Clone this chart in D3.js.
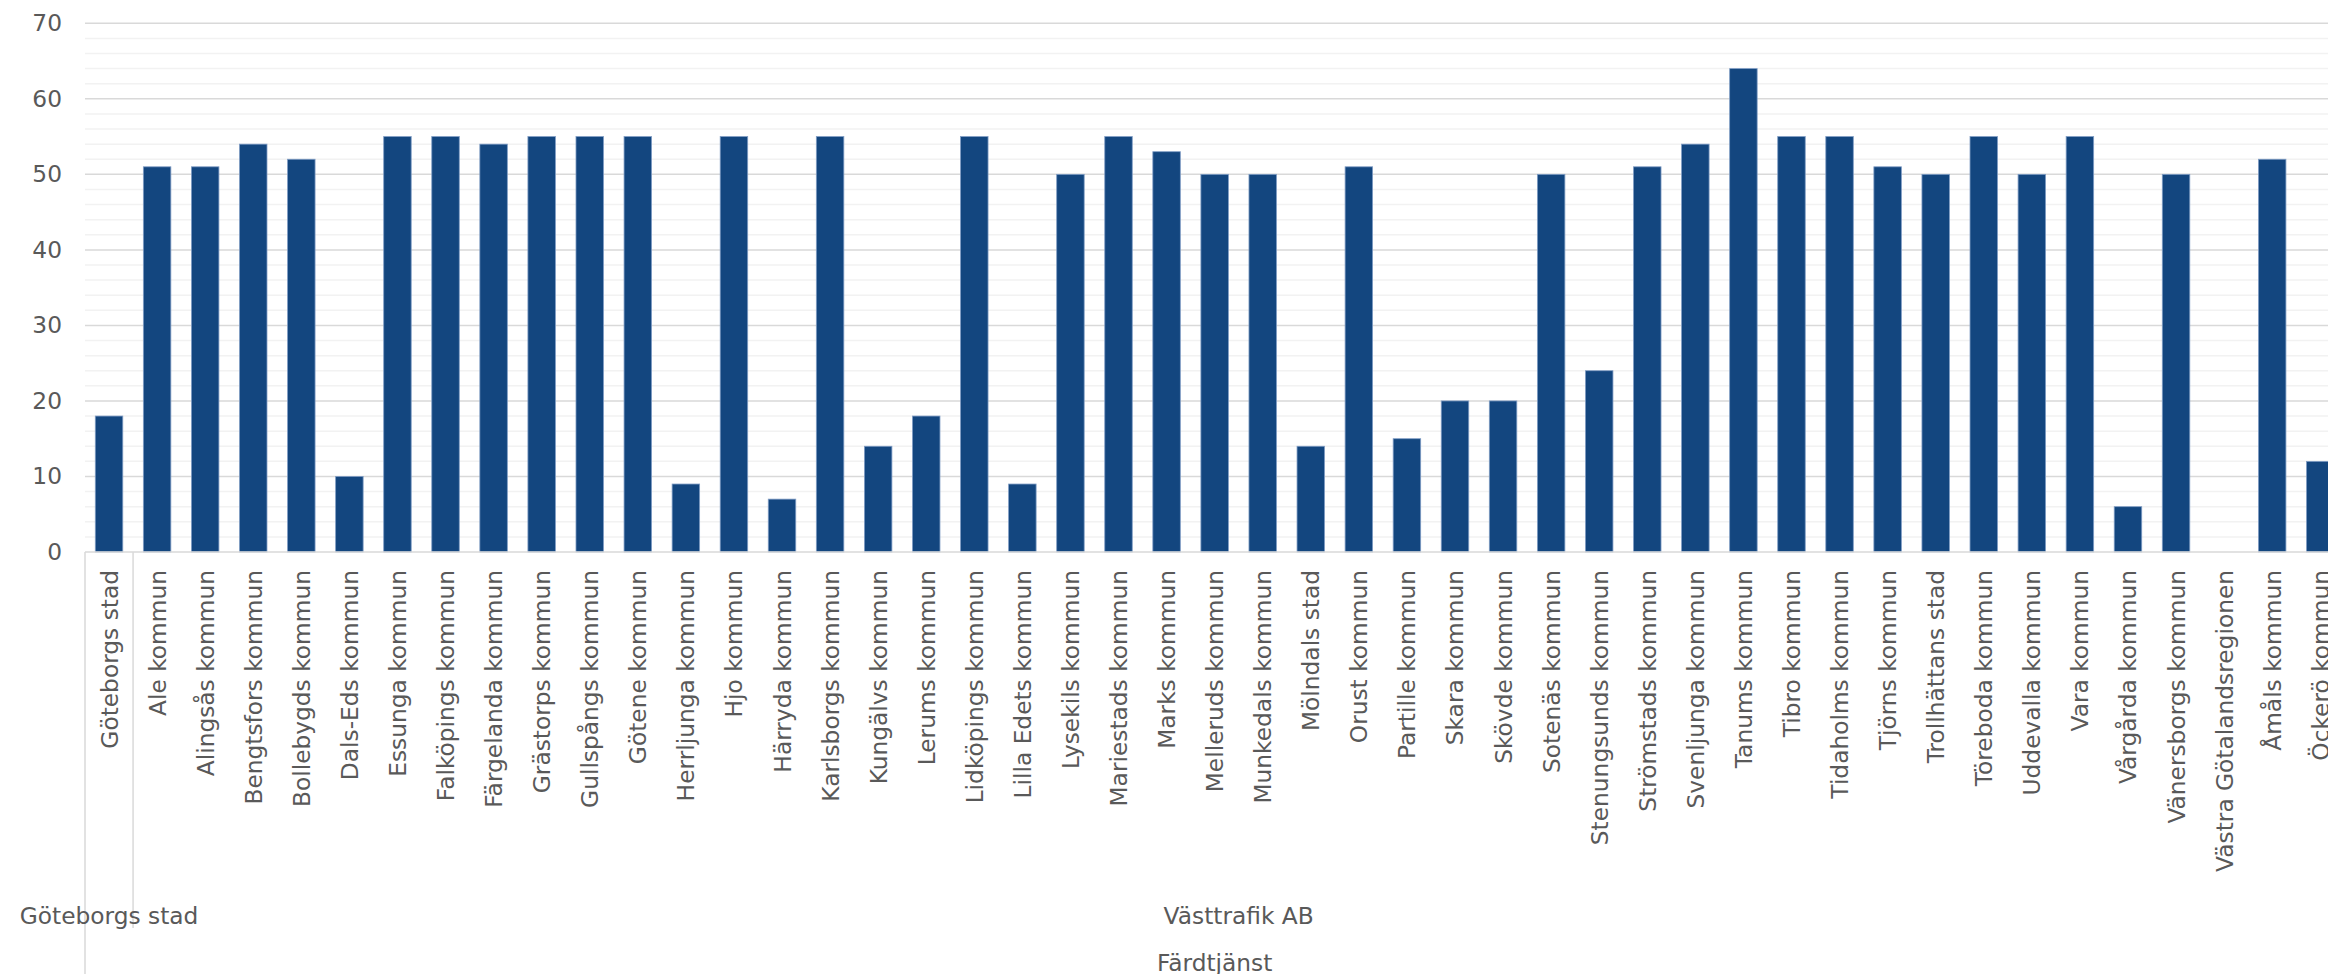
<!DOCTYPE html>
<html>
<head>
<meta charset="utf-8">
<script src="https://cdn.jsdelivr.net/npm/d3@7"></script>
<style>
  html, body { margin: 0; padding: 0; background: #fff; overflow: hidden; }
  svg { display: block; }
  text { font-family: "DejaVu Sans", Verdana, sans-serif; fill: #595959; }
</style>
</head>
<body>
<script>
const categories = [
  "Göteborgs stad", "Ale kommun", "Alingsås kommun", "Bengtsfors kommun", "Bollebygds kommun",
  "Dals-Eds kommun", "Essunga kommun", "Falköpings kommun", "Färgelanda kommun", "Grästorps kommun",
  "Gullspångs kommun", "Götene kommun", "Herrljunga kommun", "Hjo kommun", "Härryda kommun",
  "Karlsborgs kommun", "Kungälvs kommun", "Lerums kommun", "Lidköpings kommun", "Lilla Edets kommun",
  "Lysekils kommun", "Mariestads kommun", "Marks kommun", "Melleruds kommun", "Munkedals kommun",
  "Mölndals stad", "Orust kommun", "Partille kommun", "Skara kommun", "Skövde kommun",
  "Sotenäs kommun", "Stenungsunds kommun", "Strömstads kommun", "Svenljunga kommun", "Tanums kommun",
  "Tibro kommun", "Tidaholms kommun", "Tjörns kommun", "Trollhättans stad", "Töreboda kommun",
  "Uddevalla kommun", "Vara kommun", "Vårgårda kommun", "Vänersborgs kommun", "Västra Götalandsregionen",
  "Åmåls kommun", "Öckerö kommun"
];
const values = [
  18, 51, 51, 54, 52,
  10, 55, 55, 54, 55,
  55, 55, 9, 55, 7,
  55, 14, 18, 55, 9,
  50, 55, 53, 50, 50,
  14, 51, 15, 20, 20,
  50, 24, 51, 54, 64,
  55, 55, 51, 50, 55,
  50, 55, 6, 50, null,
  52, 12
];
// Group levels: [label, first index, last index]
const groupLevel2 = [["Göteborgs stad", 0, 0], ["Västtrafik AB", 1, 46]];
const groupLevel3 = [["Färdtjänst", 0, 46]];
const yTicks = [0, 10, 20, 30, 40, 50, 60, 70];
const yMinorTicks = d3.range(0, 71, 2);

const W = 2328, H = 974;
const plotLeft = 85, plotTop = 23.3, plotBottom = 552;
const stepW = 48.07;

const svg = d3.select("body").append("svg").attr("width", W).attr("height", H);

const x = d3.scaleBand().domain(categories).range([plotLeft, plotLeft + stepW * categories.length]).padding(0);
const y = d3.scaleLinear().domain([0, 70]).range([plotBottom, plotTop]);

// minor gridlines
svg.append("g").selectAll("line").data(yMinorTicks.filter(v => v % 10 !== 0)).join("line")
  .attr("x1", plotLeft).attr("x2", W).attr("y1", d => y(d)).attr("y2", d => y(d))
  .attr("stroke", "#f2f2f2").attr("stroke-width", 1.5);
// major gridlines
svg.append("g").selectAll("line").data(yTicks.filter(v => v !== 0)).join("line")
  .attr("x1", plotLeft).attr("x2", W).attr("y1", d => y(d)).attr("y2", d => y(d))
  .attr("stroke", "#d9d9d9").attr("stroke-width", 1.5);

// y axis labels
const yAxis = d3.axisLeft(y).tickValues(yTicks).tickSize(0).tickPadding(23);
const gy = svg.append("g").attr("transform", `translate(${plotLeft},0)`).call(yAxis);
gy.select(".domain").remove();
gy.selectAll("text").style("font-size", "23.3px").attr("fill", "#595959")
  .style("font-family", '"DejaVu Sans", Verdana, sans-serif');

// bars
const bw = x.step() * 0.572, boff = x.step() * 0.214;
svg.append("g").selectAll("rect").data(categories.map((c, i) => ({c, v: values[i]})).filter(d => d.v != null)).join("rect")
  .attr("x", d => x(d.c) + boff)
  .attr("width", bw)
  .attr("y", d => y(d.v))
  .attr("height", d => y(0) - y(d.v))
  .attr("fill", "#13467f")
  .attr("stroke", "#7f9cc4").attr("stroke-width", 0.8);

// x axis baseline
svg.append("line").attr("x1", plotLeft).attr("x2", W).attr("y1", plotBottom).attr("y2", plotBottom)
  .attr("stroke", "#d9d9d9").attr("stroke-width", 1.5);

// category labels (rotated)
const xAxis = d3.axisBottom(x).tickSize(0).tickPadding(0);
const gx = svg.append("g").attr("transform", `translate(0,${plotBottom})`).call(xAxis);
gx.select(".domain").remove();
gx.selectAll("text")
  .style("font-size", "23.3px").style("font-family", '"DejaVu Sans", Verdana, sans-serif')
  .attr("fill", "#595959")
  .attr("text-anchor", "end")
  .attr("dy", null).attr("y", 0)
  .attr("dominant-baseline", "central")
  .attr("transform", "translate(0,18) rotate(-90)");

// separators
const bandStart = i => x(categories[i]);
const bandEnd = i => x(categories[i]) + x.step();
svg.append("line").attr("x1", plotLeft).attr("x2", plotLeft).attr("y1", plotBottom).attr("y2", H)
  .attr("stroke", "#d9d9d9").attr("stroke-width", 1.5);
groupLevel2.forEach(([, a, b]) => {
  svg.append("line").attr("x1", bandEnd(b)).attr("x2", bandEnd(b)).attr("y1", plotBottom).attr("y2", 928)
    .attr("stroke", "#d9d9d9").attr("stroke-width", 1.5);
});

// level 2 labels
svg.append("g").selectAll("text").data(groupLevel2).join("text")
  .attr("x", d => (bandStart(d[1]) + bandEnd(d[2])) / 2)
  .attr("y", 915)
  .attr("text-anchor", "middle").attr("dominant-baseline", "central")
  .style("font-size", "23.3px")
  .text(d => d[0]);

// level 3 labels
svg.append("g").selectAll("text").data(groupLevel3).join("text")
  .attr("x", d => (bandStart(d[1]) + bandEnd(d[2])) / 2)
  .attr("y", 962)
  .attr("text-anchor", "middle").attr("dominant-baseline", "central")
  .style("font-size", "23.3px")
  .text(d => d[0]);
</script>
</body>
</html>
